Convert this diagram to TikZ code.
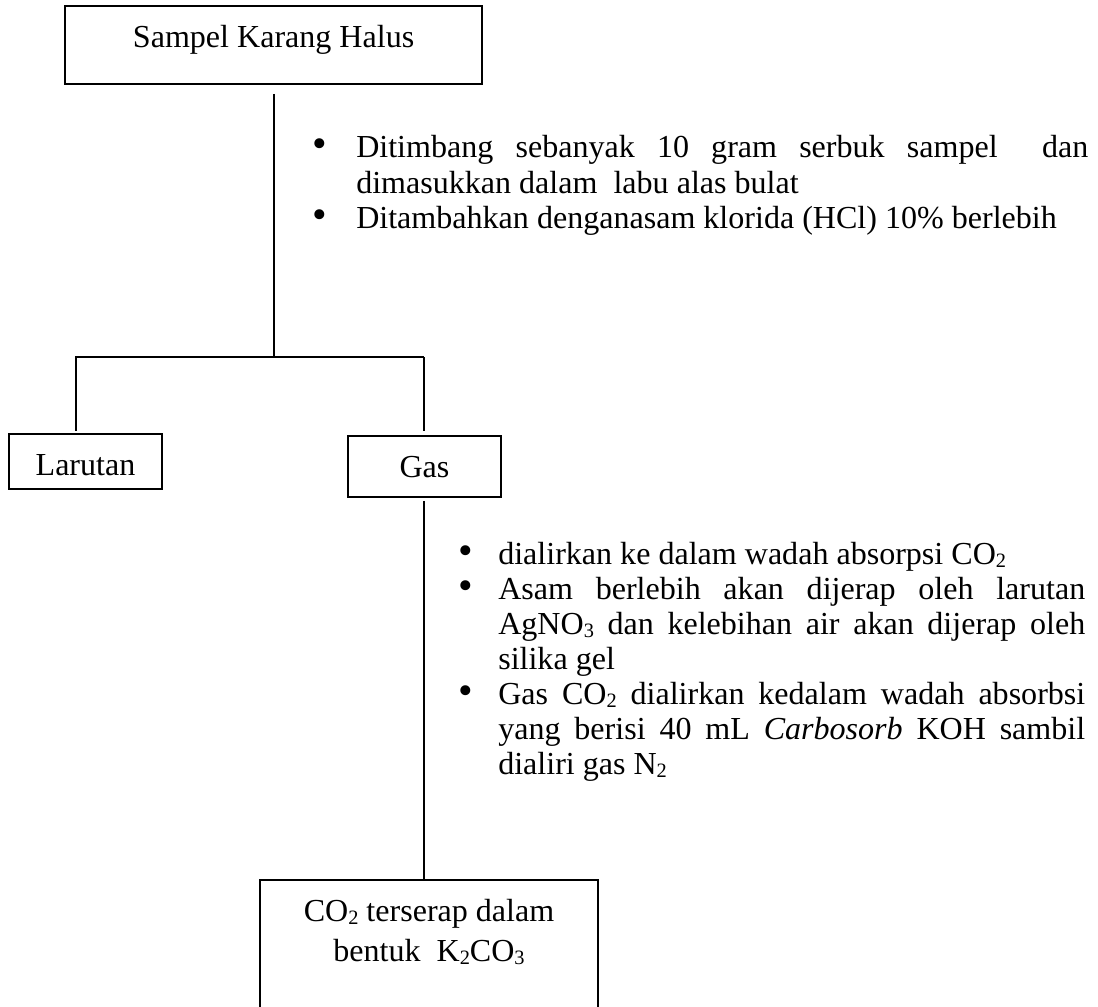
\documentclass[tikz,border=0pt]{standalone}
\usepackage{fontspec}
\setmainfont{Liberation Serif}
\usepackage{graphicx}
\hyphenpenalty=10000
\tolerance=10000
\hbadness=10000
\newcommand{\bul}[1][0.7cm]{\noindent\llap{\scalebox{1.3}{\textbullet}\hspace{#1}}}
\newcommand{\subs}[1]{\raisebox{-0.1em}{\fontsize{14.5pt}{14.5pt}\selectfont #1}}

\begin{document}
\begin{tikzpicture}[
  box/.style={draw,line width=1.4pt,inner sep=0pt,align=center,
              font=\fontsize{22.8pt}{28.4pt}\selectfont},
  note/.style={anchor=base west,inner sep=0pt,align=justify,
               font=\fontsize{22.8pt}{24.9pt}\selectfont},
  link/.style={line width=1.4pt}]
  \useasboundingbox (0,0) rectangle (27.45,-25.175);

  % Sample (top)
  \node[box,anchor=base,minimum width=10.425cm,text height=1.05cm,text depth=0.9cm]
        (sampel) at (6.84,-1.2) {Sampel Karang Halus};
  % Steps after weighing
  \node[note,text width=18.3cm] (langkah1) at (8.9,-3.95)
        {\bul[0.72cm]Ditimbang sebanyak 10 gram serbuk sampel\ \ dan dimasukkan dalam\ \ labu alas bulat\par
         \bul[0.72cm]Ditambahkan denganasam klorida (HCl) 10\% berlebih};

  % Split into solution and gas
  \coordinate (jl) at (1.9,-8.925);
  \coordinate (jr) at (10.6,-8.925);
  \node[box,anchor=base,minimum width=3.825cm,text height=1.025cm,text depth=0.35cm]
        (larutan) at (2.1375,-11.875) {Larutan};
  \node[box,anchor=base,minimum width=3.825cm,text height=1.025cm,text depth=0.5cm]
        (gas) at (10.6125,-11.925) {Gas};

  % Steps for the gas
  \node[note,text width=14.675cm] (langkah2) at (12.45,-14.1)
        {\bul[0.62cm]dialirkan ke dalam wadah absorpsi CO\subs{2}\par
         \bul[0.62cm]Asam berlebih akan dijerap oleh larutan AgNO\subs{3} dan kelebihan air akan dijerap oleh silika gel\par
         \bul[0.62cm]Gas CO\subs{2} dialirkan kedalam wadah absorbsi yang berisi 40 mL \textit{Carbosorb} KOH sambil dialiri gas N\subs{2}};

  % Result (bottom, cut by the page)
  \node[box,anchor=north,minimum width=8.45cm,inner ysep=0.48cm,text depth=3cm]
        (hasil) at (10.725,-21.975) {CO\subs{2} terserap dalam\\bentuk\ \ K\subs{2}CO\subs{3}};

  % Lines
  \draw[link] ([yshift=-0.225cm]sampel.south) -- (sampel.south |- jl);
  \draw[link] (jr) -- (jl) -- ([yshift=0.05cm]jl |- larutan.north);
  \draw[link] (jr) -- ([yshift=0.1cm]jr |- gas.north);
  \draw[link] ([yshift=-0.075cm]jr |- gas.south) -- (jr |- hasil.north);
\end{tikzpicture}
\end{document}
